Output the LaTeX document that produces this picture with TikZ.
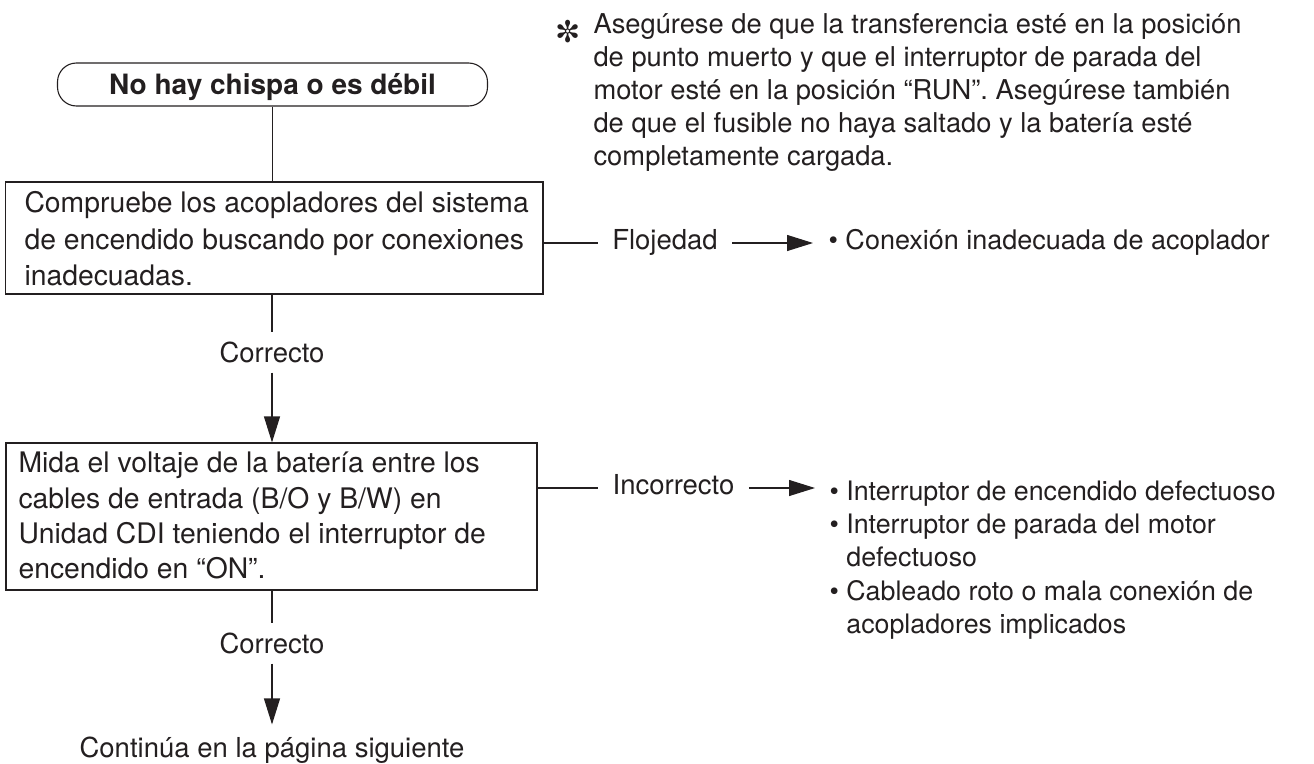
\documentclass[tikz,border=0pt]{standalone}
\usepackage{fontspec}
\setmainfont{TeX Gyre Heros}
\newfontfamily\symfont{DejaVu Sans}
\usetikzlibrary{arrows.meta}
\definecolor{ink}{RGB}{35,31,32}
\begin{document}
\begin{tikzpicture}[x=1pt,y=-1pt,line width=1.1pt,color=ink,
  font=\fontsize{27.5}{33}\selectfont,
  box/.style={draw,rectangle,inner sep=0pt},
  txt/.style={inner sep=0pt,anchor=base west},
  lbl/.style={inner xsep=14pt,inner ysep=0pt,text height=19pt,text depth=7pt},
  vlbl/.style={inner xsep=2pt,inner ysep=10pt,text height=19pt,text depth=0pt,anchor=base},
  arr/.style={-{Triangle[length=26pt,width=16pt]}},
]
\useasboundingbox (0,0) rectangle (1314,763);

% note
\node[inner sep=0pt,font=\fontsize{30}{30}\symfont] (ast) at (568,32) {✼};
\node[txt,font=\fontsize{27.3}{33}\selectfont] (note) at (593,33) {\parbox[t]{720pt}{\baselineskip=33pt
Asegúrese de que la transferencia esté en la posición\\
de punto muerto y que el interruptor de parada del\\
motor esté en la posición “RUN”. Asegúrese también\\
de que el fusible no haya saltado y la batería esté\\
completamente cargada.}};

% start
\node[draw,rounded corners=19pt,minimum width=430pt,minimum height=43pt,
  inner sep=0pt,text height=19pt,text depth=0pt,font=\fontsize{28}{33}\selectfont\bfseries]
  (start) at (272.5,84.5) {No hay chispa o es débil};

% box 2
\node[box,minimum width=537.5pt,minimum height=112pt] (b2) at (274.25,238) {};
\node[txt,font=\fontsize{28.3}{36}\selectfont] (t2) at (24,212.7) {\parbox[t]{600pt}{\baselineskip=36.4pt
Compruebe los acopladores del sistema\\
de encendido buscando por conexiones\\
inadecuadas.}};

% box 3
\node[box,minimum width=531pt,minimum height=147pt] (b3) at (271.5,516.5) {};
\node[txt,font=\fontsize{28.3}{36}\selectfont] (t3) at (18,472.7) {\parbox[t]{600pt}{\baselineskip=35.4pt
Mida el voltaje de la batería entre los\\
cables de entrada (B/O y B/W) en\\
Unidad CDI teniendo el interruptor de\\
encendido en “ON”.}};

% vertical flow
\draw (start.south) -- (start.south |- b2.north);
\node[vlbl] (c1) at (272,362) {Correcto};
\draw (c1.north |- b2.south) -- (c1.north);
\draw[arr] (c1.south) -- (c1.south |- b3.north);
\node[vlbl] (c2) at (272,653) {Correcto};
\draw (c2.north |- b3.south) -- (c2.north);
\node[anchor=base,inner xsep=2pt,inner ysep=12pt,text height=20pt,text depth=6pt]
  (cont) at (272,757) {Continúa en la página siguiente};
\draw[arr] (c2.south) -- (cont.north);

% right branch 1
\node[lbl] (flo) at (665,243) {Flojedad};
\node[txt,inner xsep=15pt,font=\fontsize{27}{33}\selectfont] (r1) at (813,249) {\textbullet\ Conexión inadecuada de acoplador};
\draw (b2.east |- flo.west) -- (flo.west);
\draw[arr] (flo.east) -- (flo.east -| r1.west);

% right branch 2
\node[lbl] (inc) at (673.5,488) {Incorrecto};
\node[txt,inner xsep=14pt,font=\fontsize{26.8}{33}\selectfont] (r2) at (815,500.7) {\parbox[t]{500pt}{\baselineskip=33.1pt
\textbullet\ Interruptor de encendido defectuoso\\
\textbullet\ Interruptor de parada del motor\\
\phantom{\textbullet\ }defectuoso\\
\textbullet\ Cableado roto o mala conexión de\\
\phantom{\textbullet\ }acopladores implicados}};
\draw (b3.east |- inc.west) -- (inc.west);
\draw[arr] (inc.east) -- (inc.east -| r2.west);
\end{tikzpicture}
\end{document}
